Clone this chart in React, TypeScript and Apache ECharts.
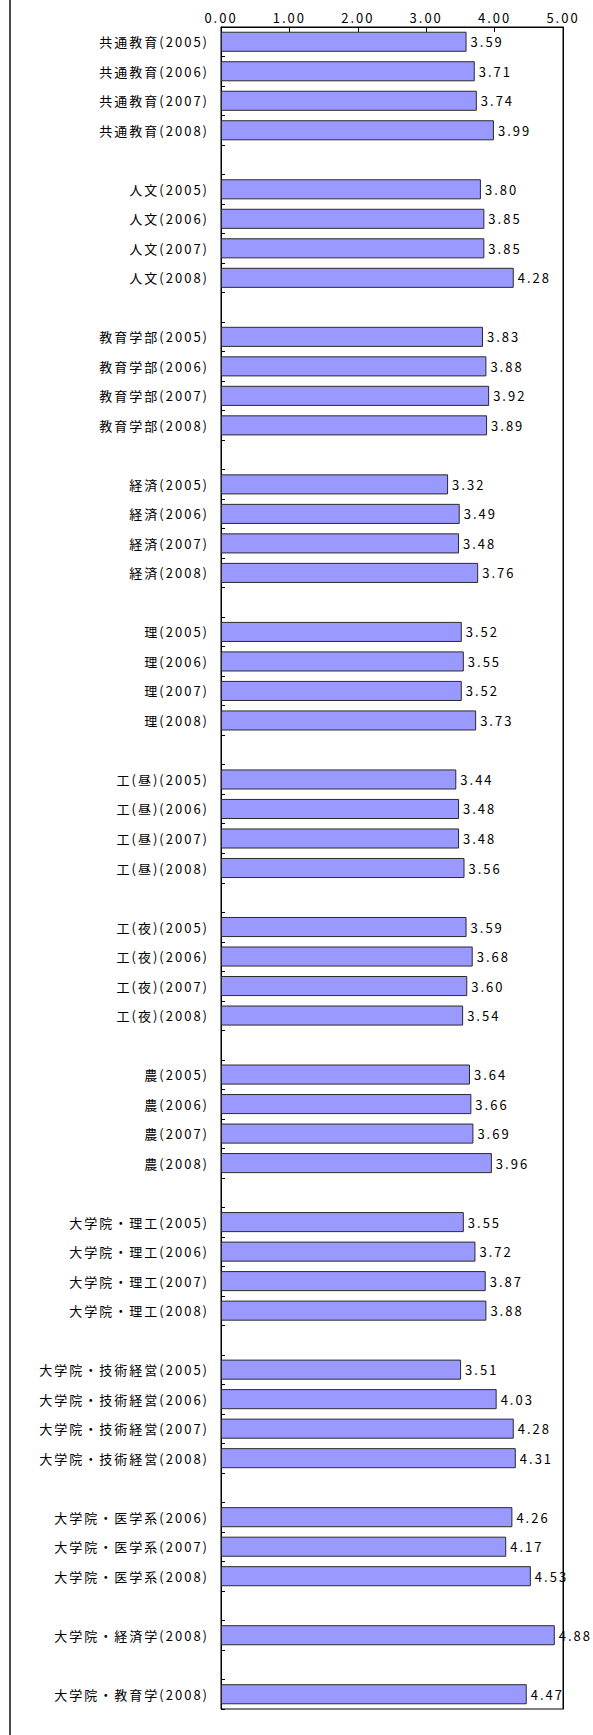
import React, { useEffect, useRef } from 'react';
import * as echarts from 'echarts';

// Faculty / programme names, the survey years reported for each, and the mean scores.
const groupNames = [
  '共通教育',
  '人文',
  '教育学部',
  '経済',
  '理',
  '工(昼)',
  '工(夜)',
  '農',
  '大学院・理工',
  '大学院・技術経営',
  '大学院・医学系',
  '大学院・経済学',
  '大学院・教育学',
];

const groupYears = [
  [2005, 2006, 2007, 2008],
  [2005, 2006, 2007, 2008],
  [2005, 2006, 2007, 2008],
  [2005, 2006, 2007, 2008],
  [2005, 2006, 2007, 2008],
  [2005, 2006, 2007, 2008],
  [2005, 2006, 2007, 2008],
  [2005, 2006, 2007, 2008],
  [2005, 2006, 2007, 2008],
  [2005, 2006, 2007, 2008],
  [2006, 2007, 2008],
  [2008],
  [2008],
];

const groupScores = [
  [3.59, 3.71, 3.74, 3.99],
  [3.8, 3.85, 3.85, 4.28],
  [3.83, 3.88, 3.92, 3.89],
  [3.32, 3.49, 3.48, 3.76],
  [3.52, 3.55, 3.52, 3.73],
  [3.44, 3.48, 3.48, 3.56],
  [3.59, 3.68, 3.6, 3.54],
  [3.64, 3.66, 3.69, 3.96],
  [3.55, 3.72, 3.87, 3.88],
  [3.51, 4.03, 4.28, 4.31],
  [4.26, 4.17, 4.53],
  [4.88],
  [4.47],
];

// Score axis range and step
const scoreMin = 0;
const scoreMax = 5;
const scoreStep = 1;

// Flatten into one category list, with an empty row between groups.
const categories: string[] = [];
const scores: (number | null)[] = [];
groupNames.forEach((name, gi) => {
  groupYears[gi].forEach((year, yi) => {
    categories.push(`${name}(${year})`);
    scores.push(groupScores[gi][yi]);
  });
  if (gi < groupNames.length - 1) {
    categories.push('');
    scores.push(null);
  }
});

const FONT = '"Noto Sans CJK JP", "Noto Sans", sans-serif';

export default function App() {
  const ref = useRef<HTMLDivElement>(null);

  useEffect(() => {
    if (!ref.current) return;
    const chart = echarts.init(ref.current, null, { renderer: 'svg' });
    chart.setOption({
      animation: false,
      backgroundColor: '#ffffff',
      textStyle: { fontFamily: FONT },
      grid: {
        left: 221,
        right: 30,
        top: 27,
        bottom: 26,
        show: true,
        borderColor: '#000000',
        borderWidth: 1,
        backgroundColor: 'transparent',
      },
      xAxis: {
        type: 'value',
        position: 'top',
        min: scoreMin,
        max: scoreMax,
        interval: scoreStep,
        axisLine: { show: true, lineStyle: { color: '#000000', width: 1 } },
        axisTick: { show: true, inside: true, length: 5, lineStyle: { color: '#000000' } },
        axisLabel: {
          formatter: (v: number) => v.toFixed(2),
          color: '#000000',
          fontSize: 13,
          fontFamily: FONT,
          margin: 3,
        },
        splitLine: { show: false },
      },
      yAxis: [
        {
          type: 'category',
          inverse: true,
          data: categories,
          axisLine: { show: true, lineStyle: { color: '#000000', width: 1 } },
          axisTick: { show: true, inside: true, length: 4, interval: 0, lineStyle: { color: '#000000' } },
          axisLabel: {
            interval: 0,
            color: '#000000',
            fontSize: 13,
            fontFamily: FONT,
            margin: 12,
          },
          splitLine: { show: false },
        },
        {
          // right-hand frame line, kept above the value labels
          type: 'category',
          inverse: true,
          position: 'right',
          data: categories,
          z: 10,
          axisLine: { show: true, lineStyle: { color: '#000000', width: 1 } },
          axisTick: { show: false },
          axisLabel: { show: false },
          splitLine: { show: false },
        },
      ],
      series: [
        {
          type: 'bar',
          yAxisIndex: 0,
          data: scores,
          barCategoryGap: '32%',
          itemStyle: { color: '#9999FF', borderColor: '#2a2a2a', borderWidth: 1 },
          label: {
            show: true,
            position: 'right',
            distance: 4,
            color: '#000000',
            fontSize: 13,
            fontFamily: FONT,
            formatter: (p: any) => (p.value == null ? '' : Number(p.value).toFixed(2)),
          },
        },
      ],
      graphic: [
        {
          type: 'line',
          z: 100,
          shape: { x1: 10, y1: 0, x2: 10, y2: 1735 },
          style: { stroke: '#111111', lineWidth: 1.5 },
        },
      ],
    });
    return () => chart.dispose();
  }, []);

  return (
    <>
      <style>{`.score-chart svg text { letter-spacing: 2px; }`}</style>
      <div
        ref={ref}
        className="score-chart"
        style={{ position: 'absolute', left: 0, top: 0, width: 593, height: 1735, background: '#ffffff' }}
      />
    </>
  );
}
